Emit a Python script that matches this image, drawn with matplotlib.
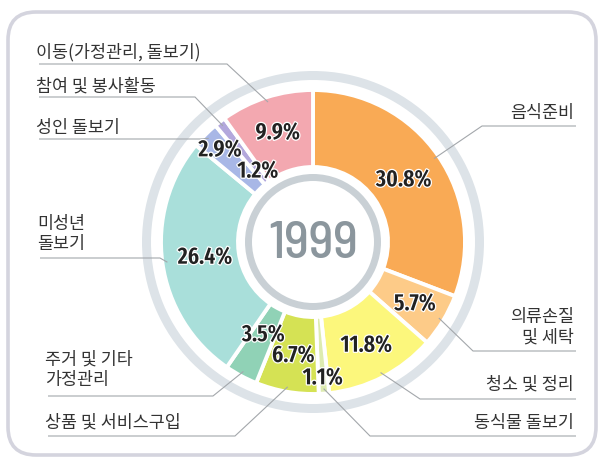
import numpy as np
import matplotlib
matplotlib.use("Agg")
import matplotlib.pyplot as plt
from matplotlib.patches import Wedge, FancyBboxPatch
import matplotlib.patheffects as pe

# ---- data ----
categories = ["음식준비", "의류손질\n및 세탁", "청소 및 정리", "동식물 돌보기",
              "상품 및 서비스구입", "주거 및 기타\n가정관리", "미성년\n돌보기",
              "성인 돌보기", "참여 및 봉사활동", "이동(가정관리, 돌보기)"]
values = [30.8, 5.7, 11.8, 1.1, 6.7, 3.5, 26.4, 2.9, 1.2, 9.9]
pct_labels = ["30.8%", "5.7%", "11.8%", "1.1%", "6.7%", "3.5%", "26.4%", "2.9%", "1.2%", "9.9%"]
year_label = "1999"

# ---- style / layout ----
colors = ["#F9AA55", "#FDCB88", "#FCF77C", "#DDEBB0", "#D5E254",
          "#90D2B6", "#A9DFDA", "#A8B7E6", "#B3A8DC", "#F3A8B0"]
W, H = 600, 460
cx, cy = 313, H - 243
R_out, R_in = 152, 75
pct_r = [110, 119, 116, 136, 115, 105, 109, 131, 90, 115]
anchor_r = 147
# (text x, text center y [image px], underline y, elbow x, side)
label_layout = [
    (574, 113, 127, 482, "right"),
    (574, 327, 352, 473, "right"),
    (574, 385, 400, 420, "right"),
    (574, 423, 437, 370, "right"),
    (45, 423, 437, 235, "left"),
    (45, 370, 397, 213, "left"),
    (37, 234, 259, 160, "left"),
    (36, 128, 140, 200, "left"),
    (36, 87, 98, 195, "left"),
    (36, 52, 65, 227, "left"),
]

kfont = ["Noto Sans CJK KR", "DejaVu Sans"]
pfont = ["Fira Sans Extra Condensed", "Barlow Semi Condensed", "DejaVu Sans"]
yfont = ["Barlow Semi Condensed", "DejaVu Sans"]

fig = plt.figure(figsize=(6, 4.6), dpi=100)
ax = fig.add_axes([0, 0, 1, 1])

# frame border
border = FancyBboxPatch((8, H - 456), 588, 443, boxstyle="round,pad=0,rounding_size=28",
                        facecolor="white", edgecolor="#D4D4DE", linewidth=2.6, zorder=0)
ax.add_patch(border)

# grey rings
ax.add_patch(Wedge((cx, cy), 171, 0, 360, width=9, facecolor="#DDE3E8", edgecolor="none", zorder=1))
ax.add_patch(Wedge((cx, cy), 68, 0, 360, width=7, facecolor="#C9D0D5", edgecolor="none", zorder=1))

wedges, _ = ax.pie(values, colors=colors, startangle=90, counterclock=False,
                   center=(cx, cy), radius=R_out,
                   wedgeprops=dict(width=R_out - R_in, edgecolor="white", linewidth=2.8))
for w in wedges:
    w.set_zorder(2)

for i, w in enumerate(wedges):
    mid = np.deg2rad((w.theta1 + w.theta2) / 2)
    px = cx + pct_r[i] * np.cos(mid)
    py = cy + pct_r[i] * np.sin(mid)
    ax.text(px, py, pct_labels[i], ha="center", va="center", fontsize=17,
            fontweight="semibold", family=pfont, color="#222222", zorder=5,
            path_effects=[pe.withStroke(linewidth=1.8, foreground="white")])
    axx = cx + anchor_r * np.cos(mid)
    ayy = cy + anchor_r * np.sin(mid)
    tx, ty, uy, ex, side = label_layout[i]
    x0 = tx + 3 if side == "left" else tx + 2
    ax.plot([x0, ex, axx], [H - uy, H - uy, ayy], color="#A3A7AB", lw=0.8,
            zorder=4, solid_capstyle="butt")
    ax.text(tx, H - ty, categories[i], ha=side, va="center", fontsize=12.5,
            family=kfont, color="#333333", linespacing=1.2, zorder=5)

ax.text(cx, cy - 2, year_label, ha="center", va="center", fontsize=38,
        family=yfont, fontweight="medium", color="#8B969D", zorder=5)

ax.set_xlim(0, W)
ax.set_ylim(0, H)
ax.set_aspect("auto")
ax.axis("off")
fig.savefig("out.png", dpi=100)
